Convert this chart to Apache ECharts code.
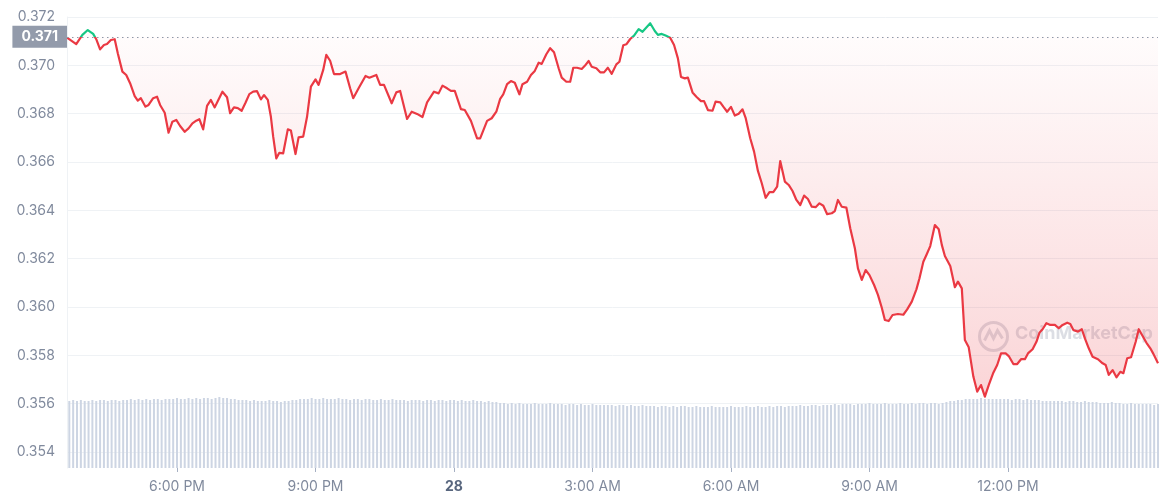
<!DOCTYPE html>
<html><head><meta charset="utf-8">
<script src="https://cdn.jsdelivr.net/npm/echarts@6/dist/echarts.min.js"></script>
<style>html,body{margin:0;padding:0;background:#fff}#c{width:1161px;height:500px}</style>
</head><body><div id="c"></div>
<script>
// time in minutes since 27th 00:00
const priceTimes = [
937,949,957,964,971,975,980,985,989,994,999,1003,1009,1014,1019,1025,1029,1033,1039,1043,
1049,1054,1058,1064,1069,1074,1079,1084,1090,1095,1100,1105,1109,1114,1119,1124,1129,1134,1139,1145,
1149,1154,1159,1164,1169,1174,1179,1184,1189,1193,1198,1202,1205,1209,1213,1218,1224,1228,1234,1238,
1244,1249,1254,1260,1264,1270,1274,1279,1284,1292,1299,1305,
1309,1316,1325,1330,1339,1344,1349,1359,1365,1370,1379,1385,1392,1399,1405,1414,1420,1425,1431,1436,
1441,1449,1454,1462,1470,1474,1483,1489,1495,1500,1504,1509,1514,1519,1525,1529,1535,1540,1545,1550,
1554,1560,1565,1570,1576,1580,1586,1591,1595,1600,1606,1610,1615,1619,1625,1630,1635,1640,1645,1651,
1655,1660,1664,1669,
1674,1680,1685,1695,1701,1705,1710,1715,1721,1726,1731,1735,1740,1744,1750,1755,1761,1765,1770,1776,
1780,1786,1790,1795,1800,1805,1810,1815,1819,1825,1830,1835,1840,1845,1850,1855,1860,1864,1870,1875,
1880,1885,1890,1895,1900,1905,1910,1915,1920,1925,1931,1935,1939,1944,1950,1955,1961,1965,1970,1975,
1980,1986,1991,1996,2000,2005,2010,
2017,2024,2029,2035,2041,2045,2050,2054,2059,2065,2070,2074,2078,2085,2091,2095,2100,2104,2109,2115,
2120,2125,2130,2135,2141,2146,2151,2157,2161,2167,2172,2177,2182,2186,2192,2197,2201,2205,2210,2215,
2221,2226,2231,2237,2241,2245,2251,2256,2260,2265,2270,2277,2283,2287,2291,2296,2301,2306,2310,2315,
2320,2326,2330,2335,2340,2345,2349,2355
];
const priceValues = [
0.37115,0.37088,0.37126,0.37146,0.37130,0.37108,0.37066,0.37084,0.37088,0.37105,
0.37108,0.37050,0.36974,0.36960,0.36926,0.36873,0.36854,0.36864,0.36829,0.36836,
0.36864,0.36870,0.36836,0.36804,0.36721,0.36767,0.36774,0.36749,0.36725,0.36739,
0.36760,0.36771,0.36777,0.36735,0.36832,0.36857,0.36826,0.36859,0.36891,0.36868,
0.36802,0.36826,0.36823,0.36812,0.36845,0.36881,0.36891,0.36893,0.36859,0.36877,
0.36857,0.36787,0.36705,0.36615,0.36638,0.36636,0.36735,0.36730,0.36633,0.36702,
0.36705,0.36787,0.36912,0.36942,0.36919,0.36981,0.37043,0.37019,0.36964,0.36964,
0.36974,0.36905,
0.36864,0.36905,0.36956,0.36949,0.36960,0.36919,0.36919,0.36843,0.36888,0.36894,
0.36778,0.36808,0.36799,0.36786,0.36847,0.36891,0.36884,0.36916,0.36905,0.36894,
0.36894,0.36819,0.36815,0.36770,0.36698,0.36698,0.36770,0.36781,0.36808,0.36861,
0.36880,0.36922,0.36935,0.36928,0.36880,0.36922,0.36932,0.36960,0.36977,0.37011,
0.37006,0.37046,0.37071,0.37054,0.36988,0.36949,0.36932,0.36932,0.36990,0.36990,
0.36985,0.36998,0.37018,0.36994,0.36988,0.36971,0.36971,0.36990,0.36965,0.37004,
0.37015,0.37083,0.37087,0.37109,
0.37123,0.37150,0.37139,0.37174,0.37142,0.37126,0.37130,0.37123,0.37114,0.37084,
0.37029,0.36952,0.36946,0.36949,0.36888,0.36870,0.36852,0.36852,0.36815,0.36812,
0.36850,0.36847,0.36829,0.36808,0.36828,0.36792,0.36800,0.36818,0.36783,0.36698,
0.36643,0.36563,0.36512,0.36452,0.36475,0.36475,0.36498,0.36604,0.36519,0.36505,
0.36480,0.36443,0.36422,0.36461,0.36447,0.36415,0.36413,0.36429,0.36419,0.36384,
0.36388,0.36397,0.36443,0.36415,0.36411,0.36326,0.36243,0.36160,0.36112,0.36153,
0.36132,0.36091,0.36050,0.35997,0.35946,0.35942,0.35967,
0.35971,0.35968,0.35990,0.36022,0.36073,0.36119,0.36187,0.36215,0.36252,0.36339,
0.36322,0.36257,0.36211,0.36170,0.36082,0.36105,0.36077,0.35863,0.35833,0.35712,
0.35650,0.35677,0.35629,0.35677,0.35728,0.35760,0.35808,0.35808,0.35797,0.35764,
0.35764,0.35784,0.35784,0.35808,0.35825,0.35856,0.35894,0.35908,0.35933,0.35926,
0.35926,0.35912,0.35926,0.35935,0.35930,0.35905,0.35898,0.35908,0.35870,0.35829,
0.35794,0.35784,0.35767,0.35760,0.35719,0.35739,0.35709,0.35732,0.35726,0.35788,
0.35792,0.35856,0.35908,0.35880,0.35852,0.35829,0.35806,0.35767
];
// 5-minute volume bars (relative units), first bar at 15:40
const volumeStart = 940;
const volumeStep = 5;
const volumeValues = [
67,68,67,68,67,67,68,67,68,68,67,68,68,67,68,68,69,68,69,68,
69,68,69,69,68,69,69,69,70,69,69,70,69,70,69,70,70,69,70,71,
70,70,69,69,68,68,68,67,68,67,67,67,68,67,67,66,67,67,68,68,
69,69,69,70,69,69,70,69,69,69,70,69,69,68,69,69,68,69,69,68,
68,69,68,68,69,68,68,68,67,68,68,68,67,68,68,67,68,68,67,68,
68,67,68,67,67,68,67,67,66,67,66,66,65,65,64,65,64,65,64,64,
64,65,64,64,64,65,64,64,64,63,64,64,63,64,63,63,64,63,63,63,
63,63,62,63,63,62,63,62,62,63,62,62,62,61,62,62,61,62,61,62,
62,61,61,62,61,61,61,62,61,61,61,61,62,61,61,61,62,61,61,62,
61,61,62,61,62,62,61,62,62,62,63,62,62,63,63,62,63,63,63,64,
63,64,64,64,63,64,64,64,65,64,64,64,65,64,64,64,65,64,64,65,
64,65,65,64,65,65,64,65,66,67,67,68,68,69,69,69,69,70,69,69,
69,69,69,69,69,68,69,69,68,69,68,68,68,67,67,67,67,67,67,66,
67,67,66,66,67,66,66,66,65,65,65,66,65,65,64,64,65,64,64,64,
64,64,63,64
];
const tickMinutes = [1080,1260,1440,1620,1800,1980,2160];
const tickLabels = ['6:00 PM','9:00 PM','28','3:00 AM','6:00 AM','9:00 AM','12:00 PM'];
const baseline = 0.37118;
const baselineLabel = '0.371';

const FONT = 'Inter, "Noto Sans", sans-serif';
const priceData = priceTimes.map((t, i) => [t, priceValues[i]]);
const volumeData = volumeValues.map((v, i) => [volumeStart + i * volumeStep, v]);

const chart = echarts.init(document.getElementById('c'));
chart.setOption({
  animation: false,
  backgroundColor: '#ffffff',
  grid: [
    {left: 67, right: 3, top: 17, bottom: 48},
    {left: 67, right: 3, top: 300, bottom: 32}
  ],
  xAxis: [
    {type: 'value', gridIndex: 0, min: 937, max: 2355, show: false},
    {type: 'value', gridIndex: 1, min: 937, max: 2355,
     splitLine: {show: false}, axisLine: {show: false},
     axisTick: {show: true, customValues: tickMinutes, length: 4, lineStyle: {color: '#a6b0c3'}},
     axisLabel: {customValues: tickMinutes, color: '#808a9d', fontSize: 14, fontFamily: FONT, margin: 12,
       formatter: function (v) {
         const i = tickMinutes.indexOf(v);
         if (i < 0) return '';
         return tickLabels[i] === '28' ? '{b|' + tickLabels[i] + '}' : tickLabels[i];
       },
       rich: {b: {fontWeight: 'bold', color: '#58667e', fontSize: 14, fontFamily: FONT}}
     }}
  ],
  yAxis: [
    {type: 'value', gridIndex: 0, min: 0.354, max: 0.372, interval: 0.002,
     axisLabel: {formatter: v => v.toFixed(3), color: '#808a9d', fontSize: 14, fontFamily: FONT, margin: 12},
     splitLine: {lineStyle: {color: '#eff2f5'}},
     axisLine: {show: true, lineStyle: {color: '#eff2f5'}}, axisTick: {show: false}},
    {type: 'value', gridIndex: 1, min: 0, max: 168,
     axisLabel: {show: false}, splitLine: {show: false}, axisTick: {show: false},
     axisLine: {show: true, lineStyle: {color: '#eff2f5'}}}
  ],
  visualMap: [{
    type: 'piecewise', show: false, seriesIndex: 0, dimension: 1,
    pieces: [
      {gte: 0.340, lte: baseline, color: '#ea3943'},
      {gt: baseline, lte: 0.380, color: '#16c784'}
    ],
    outOfRange: {color: '#ea3943'}
  }],
  graphic: [
    {type: 'circle', left: 977, top: 320, z: 1, silent: true,
     shape: {r: 14}, style: {fill: 'none', stroke: 'rgba(128,138,157,0.28)', lineWidth: 3}},
    {type: 'polyline', left: 982, top: 328, z: 1, silent: true,
     shape: {points: [[0, 12], [5, 2], [9, 10], [13, 2], [18, 10]]},
     style: {fill: 'none', stroke: 'rgba(128,138,157,0.28)', lineWidth: 3}},
    {type: 'text', left: 1015, top: 325, z: 1, silent: true,
     style: {text: 'CoinMarketCap', fill: 'rgba(128,138,157,0.28)', font: 'bold 18px ' + FONT}}
  ],
  series: [
    {
      type: 'line', xAxisIndex: 0, yAxisIndex: 0, data: priceData,
      symbol: 'none', z: 3, silent: true,
      lineStyle: {width: 2.2, join: 'round'},
      areaStyle: {
        origin: baseline,
        color: new echarts.graphic.LinearGradient(0, 0, 0, 1, [
          {offset: 0, color: 'rgba(234,57,67,0.01)'},
          {offset: 1, color: 'rgba(234,57,67,0.30)'}
        ])
      }
    },
    {
      type: 'bar', xAxisIndex: 1, yAxisIndex: 1, data: volumeData,
      barWidth: 2, silent: true, z: 1,
      itemStyle: {color: '#cdd5e3'}
    },
    {
      type: 'line', xAxisIndex: 0, yAxisIndex: 0, data: [], z: 4, silent: true,
      markLine: {
        silent: true, symbol: ['none', 'none'], precision: 6,
        data: [{yAxis: baseline}],
        lineStyle: {type: [1.5, 3.5], color: '#8f98a8', width: 1, opacity: 1},
        label: {position: 'start', formatter: baselineLabel, distance: 0,
          color: '#ffffff', fontWeight: 'bold', fontSize: 14, fontFamily: FONT,
          backgroundColor: '#939bab', padding: [4, 9, 4, 9]}
      }
    }
  ]
});
</script>
</body></html>
